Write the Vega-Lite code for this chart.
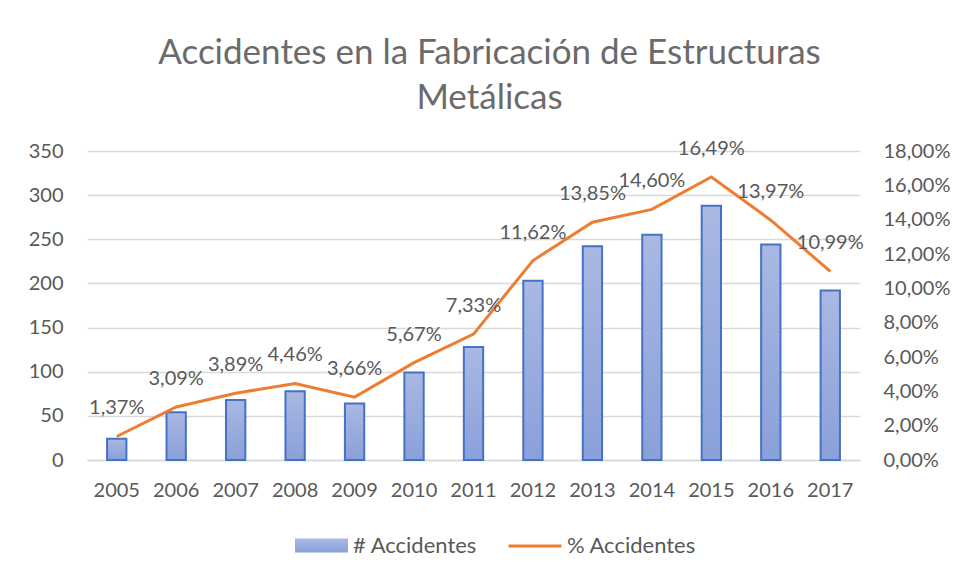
{
  "$schema": "https://vega.github.io/schema/vega-lite/v6.json",
  "width": 773,
  "height": 309,
  "autosize": {"type": "none"},
  "padding": {"left": 87, "top": 151, "right": 102, "bottom": 118},
  "background": "white",
  "title": {
    "text": ["Accidentes en la Fabricación de Estructuras", "Metálicas"],
    "anchor": "middle",
    "dx": 16,
    "font": "Lato",
    "fontSize": 35,
    "fontWeight": "normal",
    "color": "#6b6b6b",
    "lineHeight": 45,
    "offset": 23
  },
  "data": {
    "values": [
      {"year": "2005", "count": 24, "pct": 0.0137},
      {"year": "2006", "count": 54, "pct": 0.0309},
      {"year": "2007", "count": 68, "pct": 0.0389},
      {"year": "2008", "count": 78, "pct": 0.0446},
      {"year": "2009", "count": 64, "pct": 0.0366},
      {"year": "2010", "count": 99, "pct": 0.0567},
      {"year": "2011", "count": 128, "pct": 0.0733},
      {"year": "2012", "count": 203, "pct": 0.1162},
      {"year": "2013", "count": 242, "pct": 0.1385},
      {"year": "2014", "count": 255, "pct": 0.1460},
      {"year": "2015", "count": 288, "pct": 0.1649},
      {"year": "2016", "count": 244, "pct": 0.1397},
      {"year": "2017", "count": 192, "pct": 0.1099}
    ]
  },
  "encoding": {
    "x": {
      "field": "year",
      "type": "ordinal",
      "title": null,
      "scale": {"paddingInner": 0.675, "paddingOuter": 0.3375},
      "axis": {
        "labelAngle": 0,
        "domainColor": "#D9D9D9",
        "domainWidth": 1.5,
        "ticks": false,
        "labelPadding": 20,
        "labelFont": "Lato",
        "labelFontSize": 20,
        "labelColor": "#595959"
      }
    }
  },
  "layer": [
    {
      "mark": {
        "type": "bar",
        "stroke": "#4472C4",
        "strokeWidth": 2,
        "fill": {
          "gradient": "linear",
          "x1": 0, "y1": 0, "x2": 0, "y2": 1,
          "stops": [
            {"offset": 0, "color": "#AAB8E2"},
            {"offset": 1, "color": "#89A0DA"}
          ]
        }
      },
      "encoding": {
        "y": {
          "field": "count",
          "type": "quantitative",
          "title": null,
          "scale": {"domain": [0, 350]},
          "axis": {
            "values": [0, 50, 100, 150, 200, 250, 300, 350],
            "domain": false,
            "ticks": false,
            "gridColor": "#D9D9D9",
            "gridWidth": 1.5,
            "labelPadding": 24,
            "labelFont": "Lato",
            "labelFontSize": 20,
            "labelColor": "#595959"
          }
        },
        "strokeDash": {
          "datum": "# Accidentes",
          "scale": {"range": [[1, 0]]},
          "legend": {
            "orient": "none",
            "legendX": 207,
            "legendY": 367,
            "direction": "horizontal",
            "title": null,
            "symbolType": "M-1,-0.26H1V0.26H-1Z",
            "symbolSize": 2809,
            "symbolFillColor": "#98ABDC",
            "symbolStrokeColor": "#4472C4",
            "symbolStrokeWidth": 2,
            "symbolOpacity": 1,
            "labelFont": "Lato",
            "labelFontSize": 22,
            "labelColor": "#595959",
            "labelOffset": 4,
            "encode": {
              "symbols": {
                "update": {
                  "stroke": {"value": "#4472C4"},
                  "strokeWidth": {"value": 2}
                }
              }
            }
          }
        }
      }
    },
    {
      "mark": {"type": "line", "strokeWidth": 3},
      "encoding": {
        "y": {
          "field": "pct",
          "type": "quantitative",
          "title": null,
          "scale": {"domain": [0, 0.18]},
          "axis": {
            "orient": "right",
            "values": [0, 0.02, 0.04, 0.06, 0.08, 0.10, 0.12, 0.14, 0.16, 0.18],
            "format": ".2%",
            "grid": false,
            "domain": false,
            "ticks": false,
            "labelPadding": 23,
            "labelFont": "Lato",
            "labelFontSize": 20,
            "labelColor": "#595959"
          }
        },
        "stroke": {
          "datum": "% Accidentes",
          "scale": {"range": ["#ED7D31"]},
          "legend": {
            "orient": "none",
            "legendX": 420,
            "legendY": 367,
            "direction": "horizontal",
            "title": null,
            "symbolType": "stroke",
            "symbolSize": 2809,
            "symbolStrokeWidth": 3,
            "labelFont": "Lato",
            "labelFontSize": 22,
            "labelColor": "#595959",
            "labelOffset": 4
          }
        }
      }
    },
    {
      "mark": {"type": "text", "dy": -28, "font": "Lato", "fontSize": 20, "color": "#595959"},
      "encoding": {
        "y": {"field": "pct", "type": "quantitative", "scale": {"domain": [0, 0.18]}, "axis": null},
        "text": {"field": "pct", "type": "quantitative", "format": ".2%"}
      }
    }
  ],
  "resolve": {"scale": {"y": "independent"}},
  "config": {
    "view": {"stroke": null},
    "locale": {"number": {"decimal": ",", "thousands": ".", "grouping": [3], "currency": ["", " €"]}}
  }
}
